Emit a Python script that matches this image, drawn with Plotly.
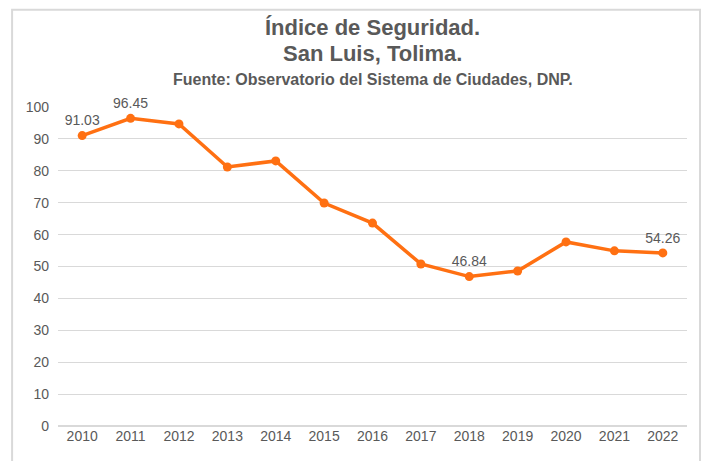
import plotly.graph_objects as go

years = ["2010", "2011", "2012", "2013", "2014", "2015", "2016",
         "2017", "2018", "2019", "2020", "2021", "2022"]
indice = [91.03, 96.45, 94.7, 81.2, 83.1, 69.9, 63.6, 50.8, 46.84, 48.6, 57.7, 54.9, 54.26]
labels = ["91.03", "96.45", "", "", "", "", "", "", "46.84", "", "", "", "54.26"]

GRAY = "#595959"
ORANGE = "#FF7012"

fig = go.Figure()
fig.add_trace(go.Scatter(
    x=years, y=indice,
    mode="lines+markers+text",
    line=dict(color=ORANGE, width=3.5),
    marker=dict(color=ORANGE, size=9),
    text=labels, textposition="top center",
    textfont=dict(color=GRAY, size=14, family="Liberation Sans, Arial"),
    cliponaxis=False,
    showlegend=False,
))

# page body adds 8px margin, so figure is a bit smaller than the window
fig.update_layout(
    width=701, height=453,
    paper_bgcolor="white", plot_bgcolor="white",
    margin=dict(l=50, r=22, t=99, b=35),
    font=dict(family="Liberation Sans, Arial", color=GRAY),
    xaxis=dict(
        type="category", range=[-0.5, 12.5], showgrid=False, zeroline=False,
        showline=False, tickfont=dict(size=14, color=GRAY), ticks="",
    ),
    yaxis=dict(
        range=[0, 100], dtick=10, showgrid=True, gridcolor="#D9D9D9", gridwidth=1,
        zeroline=True, zerolinecolor="#D9D9D9", showline=False,
        tickfont=dict(size=14, color=GRAY), ticks="", ticklabelstandoff=8,
    ),
    shapes=[dict(type="rect", xref="paper", yref="paper",
                 x0=-0.073, x1=1.0207, y0=-0.2, y1=1.305,
                 line=dict(color="#D9D9D9", width=2))],
    annotations=[
        dict(text="<b>Índice de Seguridad.</b>", xref="paper", yref="paper",
             x=0.5, y=1.0, yshift=80, xanchor="center", yanchor="middle",
             showarrow=False, font=dict(size=22, color=GRAY)),
        dict(text="<b>San Luis, Tolima.</b>", xref="paper", yref="paper",
             x=0.5, y=1.0, yshift=54, xanchor="center", yanchor="middle",
             showarrow=False, font=dict(size=22, color=GRAY)),
        dict(text="<b>Fuente: Observatorio del Sistema de Ciudades, DNP.</b>",
             xref="paper", yref="paper",
             x=0.5, y=1.0, yshift=28, xanchor="center", yanchor="middle",
             showarrow=False, font=dict(size=16, color=GRAY)),
    ],
)

fig.write_html("out.html")
